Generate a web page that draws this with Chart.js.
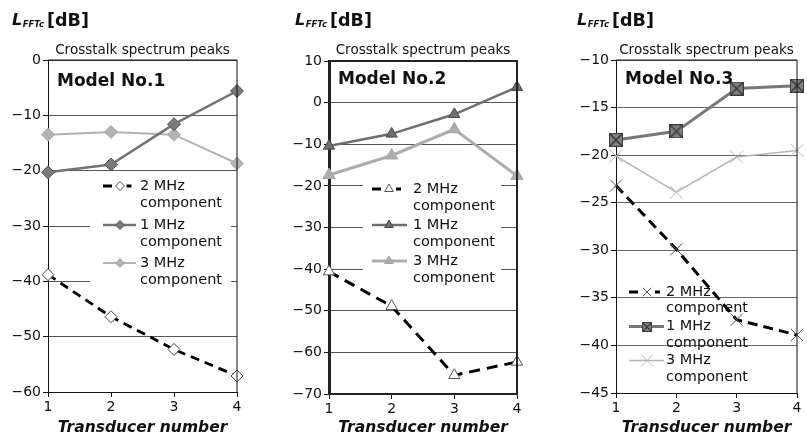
<!DOCTYPE html>
<html><head><meta charset="utf-8">
<script src="https://cdn.jsdelivr.net/npm/chart.js@4.4.1/dist/chart.umd.min.js"></script>
<style>
html,body{margin:0;padding:0;background:#fff;}
#wrap{position:relative;width:807px;height:437px;overflow:hidden;background:#fff;}
canvas{position:absolute;top:0;}
</style></head><body>
<div id="wrap">
<canvas id="c1" width="270" height="437" style="left:0px;width:270px;height:437px"></canvas>
<canvas id="c2" width="270" height="437" style="left:270px;width:270px;height:437px"></canvas>
<canvas id="c3" width="267" height="437" style="left:540px;width:267px;height:437px"></canvas>
</div>
<script>
// ---- data ----
const transducerLabels = ['1', '2', '3', '4'];
const seriesLabels2 = ['2 MHz', 'component'];
const seriesLabels1 = ['1 MHz', 'component'];
const seriesLabels3 = ['3 MHz', 'component'];
const modelNames = ['Model No.1', 'Model No.2', 'Model No.3'];
const subtitleText = 'Crosstalk spectrum peaks';
const xTitleText = 'Transducer number';

const model1_2MHz = [-38.8, -46.4, -52.3, -57.1];
const model1_1MHz = [-20.3, -18.9, -11.6, -5.6];
const model1_3MHz = [-13.5, -13.0, -13.5, -18.7];

const model2_2MHz = [-40.6, -48.9, -65.5, -62.3];
const model2_1MHz = [-10.4, -7.5, -2.8, 3.7];
const model2_3MHz = [-17.4, -12.7, -6.4, -17.6];

const model3_2MHz = [-23.2, -29.9, -37.3, -38.9];
const model3_1MHz = [-18.4, -17.5, -13.0, -12.7];
const model3_3MHz = [-20.1, -23.9, -20.2, -19.5];

const model1YTicks = [-60, -50, -40, -30, -20, -10, 0];
const model2YTicks = [-70, -60, -50, -40, -30, -20, -10, 0, 10];
const model3YTicks = [-45, -40, -35, -30, -25, -20, -15, -10];

const FONT = '"DejaVu Sans", "Liberation Sans", Arial, sans-serif';

function squareX(size, fill, stroke, lw) {
  const c = document.createElement('canvas');
  c.width = size; c.height = size;
  const g = c.getContext('2d');
  g.fillStyle = fill;
  g.fillRect(0, 0, size, size);
  g.strokeStyle = stroke;
  g.lineWidth = 1;
  g.strokeRect(0.5, 0.5, size - 1, size - 1);
  g.beginPath();
  g.moveTo(1, 1); g.lineTo(size - 1, size - 1);
  g.moveTo(size - 1, 1); g.lineTo(1, size - 1);
  g.lineWidth = lw;
  g.stroke();
  return c;
}

function drawMarker(ctx, style, r, x, y, fill, stroke, bw) {
  ctx.save();
  if (style instanceof HTMLCanvasElement) {
    ctx.drawImage(style, Math.round(x - style.width / 2), Math.round(y - style.height / 2));
    ctx.restore();
    return;
  }
  ctx.fillStyle = fill;
  ctx.strokeStyle = stroke;
  ctx.lineWidth = bw;
  ctx.setLineDash([]);
  ctx.beginPath();
  if (style === 'rectRot') {
    ctx.moveTo(x - r, y); ctx.lineTo(x, y - r); ctx.lineTo(x + r, y); ctx.lineTo(x, y + r); ctx.closePath();
    ctx.fill(); ctx.stroke();
  } else if (style === 'triangle') {
    for (let i = 0; i < 3; i++) {
      const a = i * 2 * Math.PI / 3;
      const px = x + Math.sin(a) * r, py = y - Math.cos(a) * r;
      if (i === 0) ctx.moveTo(px, py); else ctx.lineTo(px, py);
    }
    ctx.closePath(); ctx.fill(); ctx.stroke();
  } else if (style === 'crossRot') {
    const d = r * Math.SQRT1_2;
    ctx.moveTo(x - d, y - d); ctx.lineTo(x + d, y + d);
    ctx.moveTo(x + d, y - d); ctx.lineTo(x - d, y + d);
    ctx.stroke();
  }
  ctx.restore();
}

const decorPlugin = {
  id: 'decor',
  beforeDatasetsDraw(chart, args, opts) {
    const lg = opts.legend;
    if (lg && lg.bg) {
      const ctx = chart.ctx;
      ctx.save();
      ctx.fillStyle = '#ffffff';
      ctx.fillRect(lg.bg[0], lg.bg[1], lg.bg[2], lg.bg[3]);
      ctx.restore();
    }
  },
  afterDatasetsDraw(chart, args, opts) {
    const ctx = chart.ctx;
    const ca = chart.chartArea;
    // frame top & right
    ctx.save();
    ctx.strokeStyle = opts.frameColor;
    ctx.lineWidth = opts.frameWidth;
    ctx.setLineDash([]);
    ctx.beginPath();
    ctx.moveTo(ca.left, ca.top); ctx.lineTo(ca.right, ca.top); ctx.lineTo(ca.right, ca.bottom);
    ctx.stroke();
    ctx.restore();

    // legend
    const lg = opts.legend;
    chart.data.datasets.forEach((ds, i) => {
      const y = lg.rows[i];
      const mk = lg.markers[i];
      ctx.save();
      ctx.strokeStyle = ds.borderColor;
      ctx.lineWidth = ds.borderWidth;
      ctx.setLineDash([]);
      ctx.beginPath();
      if (ds.borderDash && ds.borderDash.length) {
        // dashed sample: short dash, marker, short dash
        ctx.moveTo(lg.x0, y); ctx.lineTo(lg.x0 + 9, y);
        ctx.moveTo(lg.mx + mk.r + 2, y); ctx.lineTo(lg.mx + mk.r + 7, y);
      } else {
        ctx.moveTo(lg.x0, y); ctx.lineTo(lg.x1, y);
      }
      ctx.stroke();
      ctx.restore();
      drawMarker(ctx, mk.style, mk.r, lg.mx, y, ds.pointBackgroundColor, ds.pointBorderColor, ds.pointBorderWidth);
      ctx.save();
      ctx.fillStyle = '#111';
      ctx.font = lg.fontSize + 'px ' + FONT;
      ctx.textBaseline = 'middle';
      ctx.textAlign = 'left';
      ds.legendLines.forEach((t, k) => ctx.fillText(t, lg.tx, y + k * lg.gap));
      ctx.restore();
    });
  },
  afterDraw(chart, args, opts) {
    const ctx = chart.ctx;
    const ca = chart.chartArea;
    ctx.save();
    ctx.fillStyle = '#111';
    ctx.textBaseline = 'alphabetic';
    ctx.textAlign = 'left';
    // y label  L_FFTc [dB]
    let x = opts.yLabelX;
    ctx.font = 'italic bold 16px ' + FONT;
    ctx.fillText('L', x, 25);
    x += ctx.measureText('L').width + 0.5;
    ctx.font = 'italic bold 8.5px ' + FONT;
    ctx.fillText('FFTc', x, 27);
    x += ctx.measureText('FFTc').width + 3;
    ctx.font = 'bold 17.5px ' + FONT;
    ctx.fillText('[dB]', x, 25.5);
    // subtitle
    ctx.font = '13.5px ' + FONT;
    ctx.textAlign = 'center';
    ctx.fillText(subtitleText, (ca.left + ca.right) / 2, 53.5);
    // model name
    ctx.font = 'bold 17px ' + FONT;
    ctx.textAlign = 'left';
    ctx.fillText(opts.modelText, ca.left + 9, opts.modelBaseline);
    ctx.restore();
  }
};

function minusFmt(v) { return String(v).replace('-', '\u2212'); }

function makeChart(id, cfg) {
  const canvas = document.getElementById(id);
  const W = canvas.width, H = canvas.height;
  const ticks = cfg.yTicks;
  const datasets = cfg.series.map(s => ({
    label: s.lines.join(' '),
    legendLines: s.lines,
    data: s.data,
    borderColor: s.color,
    borderWidth: s.width,
    borderDash: s.dash || [],
    pointStyle: s.pointStyle,
    pointRadius: s.radius,
    pointBackgroundColor: s.fill,
    pointBorderColor: s.stroke,
    pointBorderWidth: s.pbw,
    pointHoverRadius: s.radius,
    tension: 0,
    clip: false,
    fill: false
  }));
  return new Chart(canvas, {
    type: 'line',
    data: { labels: transducerLabels, datasets },
    plugins: [decorPlugin],
    options: {
      responsive: false,
      animation: false,
      events: [],
      layout: { padding: { left: 0, right: W - cfg.right, top: cfg.top, bottom: 0 } },
      plugins: {
        legend: { display: false },
        tooltip: { enabled: false },
        title: { display: false },
        decor: {
          yLabelX: cfg.yLabelX,
          modelText: cfg.model,
          modelBaseline: cfg.modelBaseline,
          frameColor: cfg.frameColor,
          frameWidth: cfg.frameWidth,
          legend: cfg.legend
        }
      },
      scales: {
        x: {
          type: 'category',
          offset: false,
          afterFit(scale) { scale.height = H - cfg.bottom; },
          grid: { drawOnChartArea: false, drawTicks: true, tickLength: 5, tickColor: '#111', tickWidth: 1 },
          border: { display: true, color: cfg.frameColor, width: cfg.bottomWidth },
          ticks: { color: '#111', font: { family: FONT, size: 14 }, padding: 2, maxRotation: 0, autoSkip: false },
          title: {
            display: true, text: xTitleText, color: '#111',
            font: { family: FONT, size: 15.5, weight: 'bold', style: 'italic' },
            padding: { top: 0, bottom: 0 }
          }
        },
        y: {
          type: 'linear',
          min: ticks[0],
          max: ticks[ticks.length - 1],
          afterFit(scale) { scale.width = cfg.left; },
          afterBuildTicks(scale) { scale.ticks = ticks.map(v => ({ value: v })); },
          grid: { color: cfg.gridColor, lineWidth: 1, drawTicks: true, tickLength: 5, tickColor: '#111' },
          border: { display: true, color: cfg.frameColor, width: cfg.leftWidth },
          ticks: { color: '#111', font: { family: FONT, size: 14 }, padding: 2, callback: v => minusFmt(v) }
        }
      }
    }
  });
}

const DARK = '#737373', DARKFILL = '#7a7a7a', DARKEDGE = '#505050';
const LIGHT = '#b3b3b3';

makeChart('c1', {
  left: 48, right: 237, top: 60, bottom: 392,
  yTicks: model1YTicks, model: modelNames[0], modelBaseline: 86, yLabelX: 12,
  frameColor: '#111', frameWidth: 1, leftWidth: 1, bottomWidth: 1, gridColor: '#555',
  series: [
    { lines: seriesLabels2, data: model1_2MHz, color: '#000', width: 2.8, dash: [9, 6], pointStyle: 'rectRot', radius: 6, fill: '#fff', stroke: '#444', pbw: 1 },
    { lines: seriesLabels1, data: model1_1MHz, color: DARK, width: 2.5, pointStyle: 'rectRot', radius: 6.5, fill: DARKFILL, stroke: DARKEDGE, pbw: 1 },
    { lines: seriesLabels3, data: model1_3MHz, color: LIGHT, width: 2, pointStyle: 'rectRot', radius: 6.5, fill: LIGHT, stroke: '#aaa', pbw: 1 }
  ],
  legend: { bg: [90, 174, 141, 118], x0: 103, x1: 136, mx: 120, tx: 140, rows: [186, 225, 263], gap: 17.5, fontSize: 14.5,
    markers: [{ style: 'rectRot', r: 4.5 }, { style: 'rectRot', r: 4.5 }, { style: 'rectRot', r: 4.5 }] }
});

makeChart('c2', {
  left: 59, right: 247, top: 61, bottom: 394,
  yTicks: model2YTicks, model: modelNames[1], modelBaseline: 83.5, yLabelX: 25,
  frameColor: '#222', frameWidth: 2, leftWidth: 3, bottomWidth: 2, gridColor: '#555',
  series: [
    { lines: seriesLabels2, data: model2_2MHz, color: '#000', width: 3, dash: [11, 7], pointStyle: 'triangle', radius: 6.5, fill: '#fff', stroke: '#555', pbw: 1 },
    { lines: seriesLabels1, data: model2_1MHz, color: '#6e6e6e', width: 2.5, pointStyle: 'triangle', radius: 6.5, fill: '#6e6e6e', stroke: '#4a4a4a', pbw: 1 },
    { lines: seriesLabels3, data: model2_3MHz, color: '#adadad', width: 3, pointStyle: 'triangle', radius: 7, fill: '#adadad', stroke: '#a5a5a5', pbw: 1 }
  ],
  legend: { bg: [93, 178, 138, 110], x0: 102, x1: 137, mx: 119, tx: 143, rows: [189, 225, 261], gap: 17.5, fontSize: 14.5,
    markers: [{ style: 'triangle', r: 5 }, { style: 'triangle', r: 5 }, { style: 'triangle', r: 5 }] }
});

const sqBig = squareX(14, '#808080', '#3a3a3a', 1.6);
const sqSmall = squareX(10, '#808080', '#3a3a3a', 1.3);

makeChart('c3', {
  left: 76, right: 264, top: 60, bottom: 393,
  yTicks: model3YTicks, model: modelNames[2], modelBaseline: 83.5, yLabelX: 37,
  frameColor: '#111', frameWidth: 1, leftWidth: 1, bottomWidth: 1, gridColor: '#666',
  series: [
    { lines: seriesLabels2, data: model3_2MHz, color: '#000', width: 3, dash: [10, 6], pointStyle: 'crossRot', radius: 8.5, fill: '#fff', stroke: '#555', pbw: 1 },
    { lines: seriesLabels1, data: model3_1MHz, color: '#777', width: 3, pointStyle: sqBig, radius: 7, fill: '#808080', stroke: '#3a3a3a', pbw: 1 },
    { lines: seriesLabels3, data: model3_3MHz, color: '#b5b5b5', width: 1.5, pointStyle: 'crossRot', radius: 9, fill: '#b5b5b5', stroke: '#b5b5b5', pbw: 1 }
  ],
  legend: { bg: null, x0: 89, x1: 124, mx: 107, tx: 126, rows: [292, 326.5, 360.5], gap: 16.5, fontSize: 14.5,
    markers: [{ style: 'crossRot', r: 6 }, { style: sqSmall, r: 5 }, { style: 'crossRot', r: 8 }] }
});
</script>
</body></html>
